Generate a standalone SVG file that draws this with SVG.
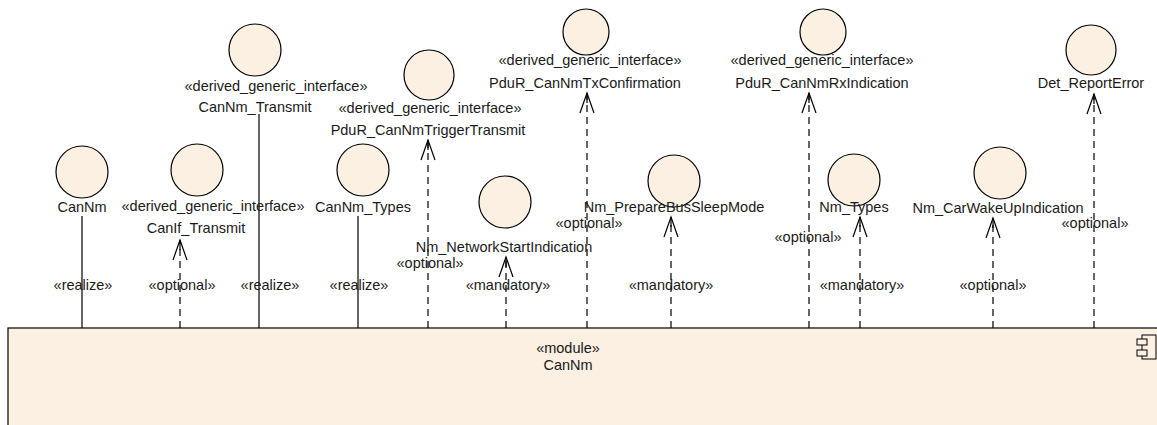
<svg xmlns="http://www.w3.org/2000/svg" width="1157" height="425" viewBox="0 0 1157 425">
<style>
text{font-family:"Liberation Sans",Arial,sans-serif;font-size:14.5px;fill:#1a1a1a;text-anchor:middle}
.iface{fill:#FBF0E2;stroke:#000;stroke-width:1.2}
.sol{stroke:#000;stroke-width:1.2;fill:none}
.dash{stroke:#000;stroke-width:1.2;fill:none;stroke-dasharray:7,5}
.arr{stroke:#000;stroke-width:1.2;fill:none;marker-end:url(#open)}
</style>
<defs>
<marker id="open" markerUnits="userSpaceOnUse" markerWidth="24" markerHeight="18" refX="21" refY="8" orient="auto" viewBox="0 0 24 18">
<path d="M1,1 L21,8 L1,15" fill="none" stroke="#000" stroke-width="1.2"/>
</marker>
</defs>
<rect id="bg" x="0" y="0" width="1157" height="425" fill="#fff"/>
<g id="module">
<rect x="8" y="328" width="1160" height="110" fill="#FBF0E2" stroke="#000" stroke-width="1.2"/>
<text x="568" y="353">«module»</text>
<text x="568" y="370">CanNm</text>
<rect x="1142" y="335" width="14" height="24" fill="#FBF0E2" stroke="#000" stroke-width="1"/>
<rect x="1137" y="339" width="10" height="6" fill="#FBF0E2" stroke="#000" stroke-width="1"/>
<rect x="1137" y="350" width="10" height="6" fill="#FBF0E2" stroke="#000" stroke-width="1"/>
</g>
<g id="connectors">
<line class="sol" x1="82" y1="216" x2="82" y2="328"/>
<text x="83" y="290">«realize»</text>
<line class="dash" x1="180" y1="328" x2="180" y2="241"/>
<line class="arr" x1="180" y1="250" x2="180" y2="240" />
<text x="182" y="290">«optional»</text>
<line class="sol" x1="259" y1="114" x2="259" y2="328"/>
<text x="270" y="290">«realize»</text>
<line class="sol" x1="358" y1="216" x2="358" y2="328"/>
<text x="359" y="290">«realize»</text>
<line class="dash" x1="428" y1="328" x2="428" y2="141"/>
<line class="arr" x1="428" y1="150" x2="428" y2="140"/>
<text x="430" y="268">«optional»</text>
<line class="dash" x1="506" y1="328" x2="506" y2="258"/>
<line class="arr" x1="506" y1="267" x2="506" y2="257"/>
<text x="508" y="290">«mandatory»</text>
<line class="dash" x1="587" y1="328" x2="587" y2="94"/>
<line class="arr" x1="587" y1="103" x2="587" y2="93"/>
<text x="589" y="228">«optional»</text>
<line class="dash" x1="671" y1="328" x2="671" y2="218"/>
<line class="arr" x1="671" y1="227" x2="671" y2="217"/>
<text x="671" y="290">«mandatory»</text>
<line class="dash" x1="809" y1="328" x2="809" y2="94"/>
<line class="arr" x1="809" y1="103" x2="809" y2="93"/>
<text x="808" y="242">«optional»</text>
<line class="dash" x1="860" y1="328" x2="860" y2="218"/>
<line class="arr" x1="860" y1="227" x2="860" y2="217"/>
<text x="862" y="290">«mandatory»</text>
<line class="dash" x1="993" y1="328" x2="993" y2="219"/>
<line class="arr" x1="993" y1="228" x2="993" y2="218"/>
<text x="993" y="290">«optional»</text>
<line class="dash" x1="1094" y1="328" x2="1094" y2="95"/>
<line class="arr" x1="1094" y1="104" x2="1094" y2="94"/>
<text x="1095" y="228">«optional»</text>
</g>
<g id="CanNm">
<circle class="iface" cx="82" cy="172" r="26"/>
<text x="82" y="212">CanNm</text>
</g>
<g id="CanIf_Transmit">
<circle class="iface" cx="197" cy="170" r="26"/>
<text x="213" y="211">«derived_generic_interface»</text>
<text x="196" y="233">CanIf_Transmit</text>
</g>
<g id="CanNm_Transmit">
<circle class="iface" cx="255" cy="50" r="26"/>
<text x="276" y="91">«derived_generic_interface»</text>
<text x="255" y="112">CanNm_Transmit</text>
</g>
<g id="CanNm_Types">
<circle class="iface" cx="363" cy="170" r="26"/>
<text x="363" y="212">CanNm_Types</text>
</g>
<g id="PduR_CanNmTriggerTransmit">
<circle class="iface" cx="429" cy="75" r="25"/>
<text x="430" y="113">«derived_generic_interface»</text>
<text x="428" y="135">PduR_CanNmTriggerTransmit</text>
</g>
<g id="Nm_NetworkStartIndication">
<circle class="iface" cx="505" cy="202" r="26"/>
<text x="504" y="252">Nm_NetworkStartIndication</text>
</g>
<g id="PduR_CanNmTxConfirmation">
<circle class="iface" cx="586" cy="32" r="23"/>
<text x="590" y="65">«derived_generic_interface»</text>
<text x="585" y="88">PduR_CanNmTxConfirmation</text>
</g>
<g id="Nm_PrepareBusSleepMode">
<circle class="iface" cx="674" cy="181" r="26"/>
<text x="674" y="212">Nm_PrepareBusSleepMode</text>
</g>
<g id="PduR_CanNmRxIndication">
<circle class="iface" cx="823" cy="32" r="23"/>
<text x="822" y="65">«derived_generic_interface»</text>
<text x="822" y="88">PduR_CanNmRxIndication</text>
</g>
<g id="Nm_Types">
<circle class="iface" cx="854" cy="180" r="26"/>
<text x="854" y="212">Nm_Types</text>
</g>
<g id="Nm_CarWakeUpIndication">
<circle class="iface" cx="1000" cy="173" r="26"/>
<text x="998" y="213">Nm_CarWakeUpIndication</text>
</g>
<g id="Det_ReportError">
<circle class="iface" cx="1091" cy="50" r="25"/>
<text x="1091" y="88">Det_ReportError</text>
</g>
</svg>
